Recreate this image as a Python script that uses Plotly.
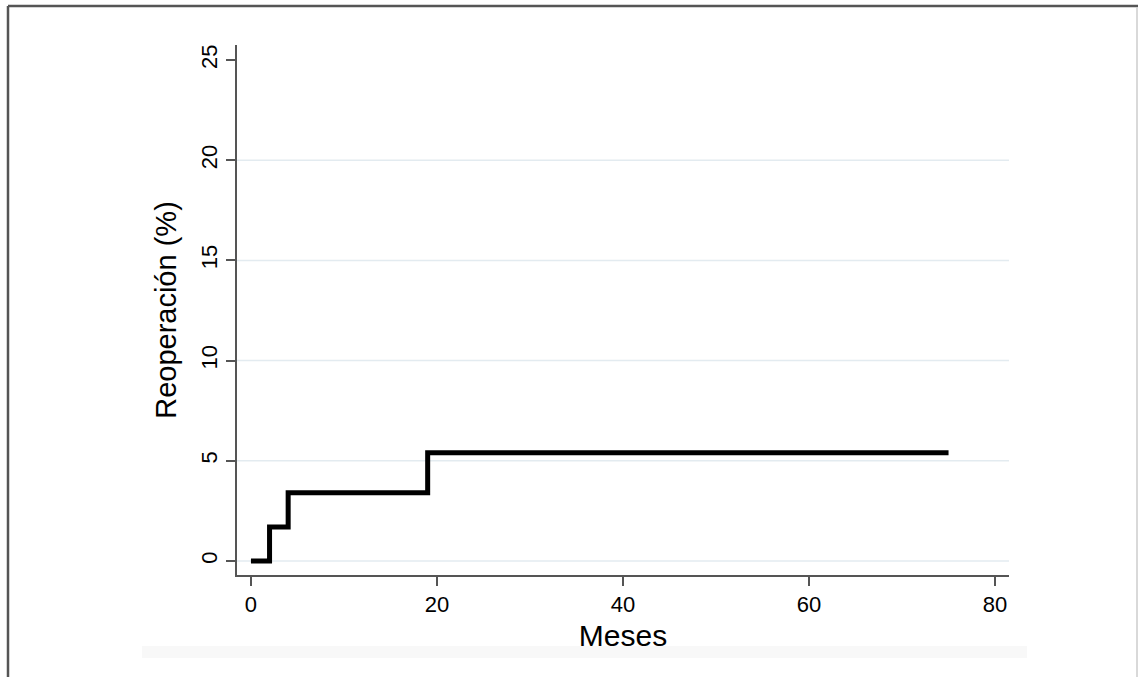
import plotly.graph_objects as go

# Data
meses = [0, 2, 4, 19, 75]
reoperacion = [0, 1.7, 3.4, 5.4, 5.4]
x_ticks = [0, 20, 40, 60, 80]
y_ticks = [0, 5, 10, 15, 20, 25]

W, H = 1138, 677
L, R, T, B = 237, 1009, 45, 575

def px(x):
    return (x - L) / (R - L)

def py(y):
    return (B - y) / (B - T)

fig = go.Figure()
fig.add_trace(go.Scatter(
    x=meses, y=reoperacion, mode="lines",
    line=dict(shape="hv", color="black", width=5),
    showlegend=False, hoverinfo="skip"))

font = "Arial, Liberation Sans, sans-serif"

fig.update_layout(
    width=W, height=H,
    margin=dict(l=L, r=W - R, t=T, b=H - B, autoexpand=False),
    paper_bgcolor="white", plot_bgcolor="white",
    font=dict(family=font, color="black"),
    xaxis=dict(
        range=[-1.5, 81.5], tickvals=x_ticks, ticks="outside", ticklen=9,
        tickcolor="#555", tickwidth=1.5, showline=True, linecolor="#555",
        linewidth=1.5, showgrid=False, zeroline=False,
        tickfont=dict(size=22, family=font),
        title=dict(text="Meses", font=dict(size=30, family=font), standoff=9),
    ),
    yaxis=dict(
        range=[-0.7, 25.75], tickvals=y_ticks, ticks="outside", ticklen=9,
        tickcolor="#555", tickwidth=1.5, showline=True, linecolor="#555",
        linewidth=1.5, showgrid=False, zeroline=False, tickangle=-90,
        tickfont=dict(size=22, family=font),
        title=dict(text="Reoperación (%)", font=dict(size=29, family=font), standoff=12),
    ),
)

# light gridlines
for yv in y_ticks[:-1]:
    fig.add_shape(type="line", xref="paper", yref="y", x0=0, x1=1, y0=yv, y1=yv,
                  line=dict(color="#e3ebf0", width=1.5), layer="below")

# outer frame
fig.add_shape(type="line", xref="paper", yref="paper", x0=px(8), x1=px(8),
              y0=py(6), y1=py(700), line=dict(color="#555", width=2.5))
fig.add_shape(type="line", xref="paper", yref="paper", x0=px(8), x1=px(1160),
              y0=py(6), y1=py(6), line=dict(color="#555", width=2.5))
fig.add_shape(type="line", xref="paper", yref="paper", x0=px(1137), x1=px(1137),
              y0=py(7), y1=py(700), line=dict(color="#cccccc", width=1.5))
# faint band at bottom
fig.add_shape(type="rect", xref="paper", yref="paper", x0=px(142), x1=px(1027),
              y0=py(658), y1=py(646), line=dict(width=0), fillcolor="#f8f8f8",
              layer="below")

fig.write_html("out.html", config={"displayModeBar": False})

# remove default body margin so the figure sits at the window origin
with open("out.html", encoding="utf-8") as f:
    html = f.read()
html = html.replace("<body>", '<body style="margin:0;padding:0;">', 1)
with open("out.html", "w", encoding="utf-8") as f:
    f.write(html)
